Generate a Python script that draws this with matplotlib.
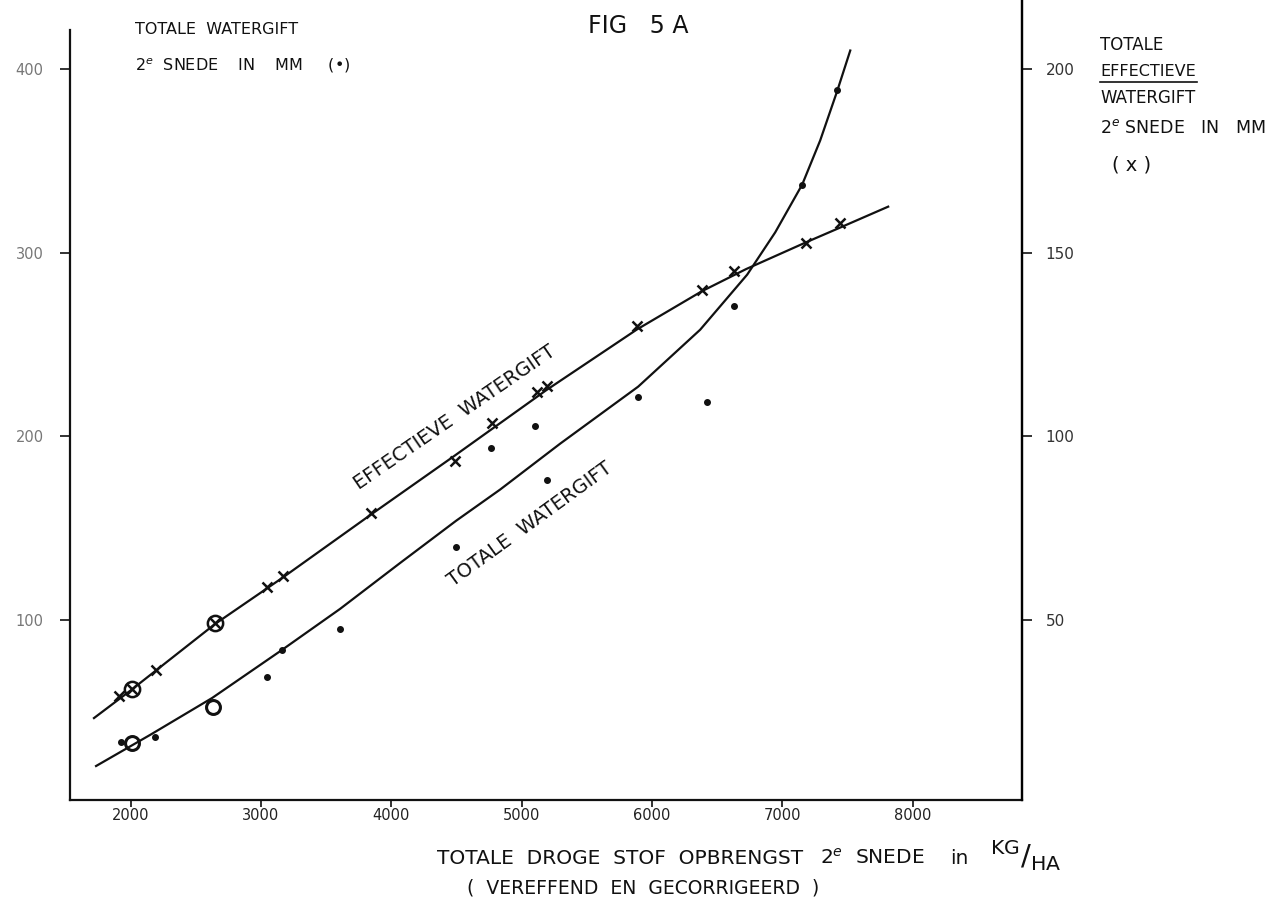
import numpy as np
import matplotlib
matplotlib.use("Agg")
from matplotlib import pyplot as plt

# totale watergift (dots, left axis, mm)
tot_x = [1923, 2008, 2186, 2629, 3044, 3159, 3606, 4497, 4765, 5106, 5196, 5896, 6425, 6632, 7152, 7423]
tot_y = [33.8, 32.9, 36.1, 52.8, 69.1, 83.7, 95.1, 139.9, 193.8, 205.8, 176.4, 221.2, 218.5, 270.7, 336.8, 388.5]
tot_circled = [1, 3]

# effectieve watergift (crosses, right axis, mm)
eff_x = [1912, 2008, 2194, 2647, 3044, 3167, 3844, 4489, 4771, 5116, 5193, 5886, 6384, 6629, 7183, 7444]
eff_y = [29.3, 31.1, 36.4, 49.1, 58.9, 62.0, 79.0, 93.3, 103.7, 112.1, 113.8, 129.9, 139.9, 144.9, 152.7, 158.1]
eff_circled = [1, 3]

# hand drawn curves
tot_curve_x = [1734, 2148, 2624, 3161, 3606, 4067, 4497, 4835, 5296, 5894, 6370, 6731, 6946, 7153, 7291, 7422, 7522]
tot_curve_y = [20.5, 37.4, 57.5, 83.7, 106.0, 131.0, 154.0, 171.0, 196.0, 227.0, 258.0, 288.0, 311.0, 337.0, 361.0, 388.0, 410.0]
eff_curve_x = [1718, 2002, 2647, 3169, 3844, 4489, 5187, 5886, 6384, 6722, 7183, 7444, 7813]
eff_curve_y = [23.3, 30.9, 48.9, 61.6, 78.7, 94.8, 112.5, 129.1, 139.5, 145.5, 152.8, 156.8, 162.5]

x_ticks = [2000, 3000, 4000, 5000, 6000, 7000, 8000]
left_ticks = [100, 200, 300, 400]
right_ticks = [50, 100, 150, 200]

ink = "#111111"
plt.rcParams["font.family"] = ["DejaVu Sans"]

fig = plt.figure(figsize=(12.84, 8.98), dpi=100)
ax = fig.add_axes([70 / 1284, 98 / 898, 952 / 1284, 800 / 898])
ax.set_xlim(1534, 8840)
ax.set_ylim(2, 437.5)

# curves
ax.plot(tot_curve_x, tot_curve_y, color=ink, lw=1.6)
ax.plot(eff_curve_x, np.array(eff_curve_y) * 2, color=ink, lw=1.6)

# measured points
plain = [i for i in range(len(tot_x)) if i not in tot_circled]
ax.plot([tot_x[i] for i in plain], [tot_y[i] for i in plain], "o", color=ink, ms=4)
ax.plot([tot_x[i] for i in tot_circled], [tot_y[i] for i in tot_circled], "o",
        mfc="none", mec=ink, ms=10, mew=2.2)
ax.plot(eff_x, np.array(eff_y) * 2, "x", color=ink, ms=7, mew=1.8)
ax.plot([eff_x[i] for i in eff_circled], [eff_y[i] * 2 for i in eff_circled], "o",
        mfc="none", mec=ink, ms=11, mew=1.8)

# axes styling
ax.spines["top"].set_visible(False)
ax.spines["left"].set_bounds(2, 421)
for s in ["left", "bottom", "right"]:
    ax.spines[s].set_linewidth(1.6)
    ax.spines[s].set_color(ink)

ax.set_xticks(x_ticks)
ax.set_xticklabels([str(v) for v in x_ticks], fontsize=10.5, color="#222222")
ax.set_yticks(left_ticks)
ax.set_yticklabels([str(v) for v in left_ticks], fontsize=10.5, color="#777777")
ax.tick_params(axis="x", direction="out", length=5, width=1.2, color=ink, pad=1)
ax.tick_params(axis="y", direction="out", length=7, width=1.2, color=ink, pad=12)

ax2 = ax.twinx()
ax2.set_ylim(1, 218.75)
ax2.set_yticks(right_ticks)
ax2.set_yticklabels([str(v) for v in right_ticks], fontsize=11, color="#333333")
ax2.tick_params(axis="y", direction="out", length=7, width=1.2, color=ink, pad=10)
for s in ["top", "left", "bottom"]:
    ax2.spines[s].set_visible(False)
ax2.spines["right"].set_linewidth(1.6)

# texts
fig.text(135 / 1284, 1 - 30 / 898, "TOTALE  WATERGIFT", fontsize=11.5, color=ink, va="center")
fig.text(135 / 1284, 1 - 66 / 898, "2$^e$  SNEDE    IN    MM     (•)", fontsize=11.5, color=ink, va="center")
fig.text(588 / 1284, 1 - 26 / 898, "FIG   5 A", fontsize=17, color=ink, va="center")

rx = 1100 / 1284
fig.text(rx, 1 - 45 / 898, "TOTALE", fontsize=12, color=ink, va="center")
fig.text(rx, 1 - 71 / 898, "EFFECTIEVE", fontsize=11.5, color=ink, va="center")
fig.add_artist(plt.Line2D([rx, 1197 / 1284], [1 - 82 / 898, 1 - 82 / 898], color=ink, lw=1.2))
fig.text(rx, 1 - 98 / 898, "WATERGIFT", fontsize=12, color=ink, va="center")
fig.text(rx, 1 - 128 / 898, "2$^e$ SNEDE   IN   MM", fontsize=12.5, color=ink, va="center")
fig.text(1112 / 1284, 1 - 165 / 898, "( x )", fontsize=14, color=ink, va="center")

xl = 1 - 858 / 898
fig.text(437 / 1284, xl, "TOTALE  DROGE  STOF  OPBRENGST", fontsize=14.5, color=ink, va="center")
fig.text(820 / 1284, xl, "2$^e$  SNEDE", fontsize=14.5, color=ink, va="center")
fig.text(950 / 1284, xl, "in", fontsize=14.5, color=ink, va="center")
fig.text(990 / 1284, xl + 0.003, r"$^{\mathrm{KG}}/_{\mathrm{HA}}$", fontsize=21, color=ink, va="center")
fig.text(467 / 1284, 1 - 888 / 898, "(  VEREFFEND  EN  GECORRIGEERD  )", fontsize=13.5, color=ink, va="center")

ax.text(4489, 210, "EFFECTIEVE  WATERGIFT", rotation=34.5, fontsize=14, color=ink,
        ha="center", va="center", rotation_mode="anchor")
ax.text(5064, 152, "TOTALE  WATERGIFT", rotation=36, fontsize=14, color=ink,
        ha="center", va="center", rotation_mode="anchor")

fig.savefig("out.png", dpi=100, facecolor="white")
